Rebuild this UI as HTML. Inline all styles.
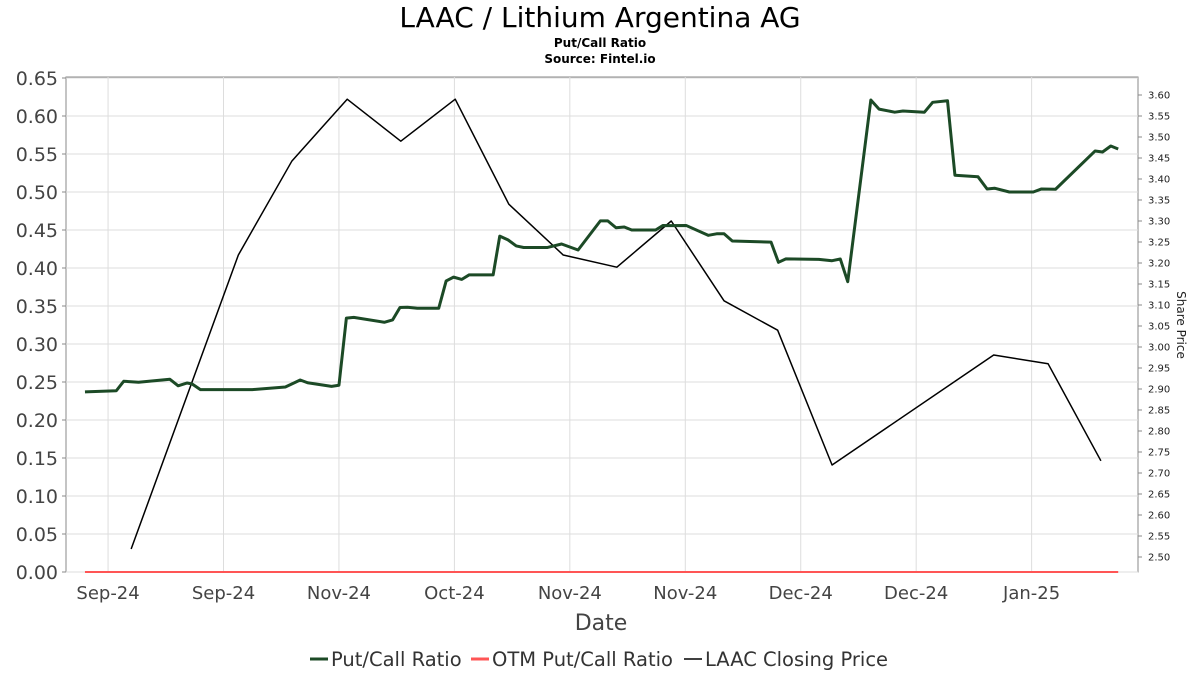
<!DOCTYPE html>
<html><head><meta charset="utf-8"><style>
body{margin:0;background:#fff;}
svg{display:block;font-family:"DejaVu Sans","Liberation Sans",sans-serif;}
</style></head><body>
<svg id="chart" width="1200" height="675">
<text x="600" y="27" text-anchor="middle" font-size="28" fill="#000">LAAC / Lithium Argentina AG</text>
<text x="600" y="47" text-anchor="middle" font-size="12" font-weight="bold" fill="#000">Put/Call Ratio</text>
<text x="600" y="63" text-anchor="middle" font-size="12" font-weight="bold" fill="#000">Source: Fintel.io</text>
<rect x="66" y="77" width="1072" height="495" fill="#fff" stroke="#888"/>
<g id="grid"></g><g id="series"></g><g id="axes"></g>
<text x="601" y="630" text-anchor="middle" font-size="22" fill="#444">Date</text>
<text transform="translate(1177,325) rotate(90)" text-anchor="middle" font-size="12" fill="#222">Share Price</text>
<g font-size="19.5" fill="#333">
<g><line x1="310" y1="659" x2="328" y2="659" stroke="#1c4a26" stroke-width="3"/><text x="331" y="666">Put/Call Ratio</text></g>
<g><line x1="471" y1="659" x2="489" y2="659" stroke="#ff5555" stroke-width="3"/><text x="492" y="666">OTM Put/Call Ratio</text></g>
<g><line x1="684" y1="659" x2="702" y2="659" stroke="#000" stroke-width="1.5"/><text x="705" y="666">LAAC Closing Price</text></g>
</g>
</svg>
<script>
const tickLabels=["Sep-24","Sep-24","Nov-24","Oct-24","Nov-24","Nov-24","Dec-24","Dec-24","Jan-25"];
const tickDays=[5.1,19.1,33.1,47.1,61.1,75.1,89.1,103.1,117.1];
const yTicks=[0,0.05,0.1,0.15,0.2,0.25,0.3,0.35,0.4,0.45,0.5,0.55,0.6,0.65];
const y2Ticks=[2.5,2.55,2.6,2.65,2.7,2.75,2.8,2.85,2.9,2.95,3.0,3.05,3.1,3.15,3.2,3.25,3.3,3.35,3.4,3.45,3.5,3.55,3.6];
const pcDays=[2.3,6.1,7.0,8.8,12.6,13.6,14.7,15.3,16.3,22.6,26.6,28.4,29.3,32.2,33.1,34.0,34.9,38.6,39.6,40.5,41.4,42.6,45.2,46.1,47.0,48.0,48.9,51.8,52.6,53.6,54.6,55.5,58.4,60.1,62.1,64.8,65.7,66.7,67.7,68.6,71.5,72.4,73.3,75.2,77.9,78.9,79.8,80.8,85.5,86.4,87.3,91.3,92.9,93.9,94.8,97.6,98.6,100.5,101.5,104.1,105.1,106.9,107.8,110.6,111.7,112.6,114.4,117.3,118.3,120.0,124.8,125.7,126.7,127.6];
const pcValues=[0.237,0.2385,0.251,0.2496,0.2536,0.245,0.2487,0.2474,0.240,0.240,0.2434,0.2526,0.249,0.2443,0.2457,0.334,0.335,0.3286,0.3316,0.348,0.3483,0.347,0.347,0.383,0.388,0.385,0.391,0.391,0.442,0.437,0.429,0.427,0.427,0.4316,0.4237,0.462,0.462,0.453,0.454,0.45,0.45,0.456,0.4557,0.456,0.443,0.445,0.445,0.4355,0.434,0.4075,0.412,0.4114,0.4096,0.4118,0.382,0.621,0.609,0.605,0.6066,0.605,0.618,0.620,0.522,0.520,0.504,0.505,0.500,0.500,0.504,0.5036,0.554,0.5526,0.5605,0.5566];
const otmDays=[2.3,127.6];
const otmValues=[0,0];
const priceDays=[7.9,20.9,27.4,34.1,40.6,47.2,53.7,60.3,66.8,73.4,79.8,86.3,92.9,112.5,119.1,125.5];
const priceValues=[2.519,3.219,3.443,3.590,3.490,3.590,3.340,3.219,3.190,3.300,3.110,3.040,2.719,2.981,2.960,2.729];

const NS="http://www.w3.org/2000/svg";
const X0=66,X1=1138,D0=0,D1=130;
const xs=d=>X0+(d-D0)/(D1-D0)*(X1-X0);
const ys=v=>572-v/0.65*494;
const y2s=p=>557-(p-2.5)/1.1*462;
function mk(tag,attrs,parent){const e=document.createElementNS(NS,tag);for(const k in attrs)e.setAttribute(k,attrs[k]);parent.appendChild(e);return e;}
const grid=document.getElementById('grid'),axes=document.getElementById('axes'),series=document.getElementById('series');
tickDays.forEach((d,i)=>{
  const x=xs(d);
  const g=mk('line',{x1:x,x2:x,y1:77,y2:572,stroke:'#ddd'},grid);
  
  
  const t=mk('text',{x:x,y:599,'text-anchor':'middle','font-size':18,fill:'#444'},axes);
  t.textContent=tickLabels[i];
  
  
});
yTicks.forEach(v=>{
  const y=ys(v);
  const g=mk('line',{x1:66,x2:1138,y1:y,y2:y,stroke:'#ddd'},grid);
  
  
  mk('line',{x1:62,x2:66,y1:y,y2:y,stroke:'#888'},axes);
  const t=mk('text',{x:58,y:y+7,'text-anchor':'end','font-size':19,fill:'#444'},axes);
  t.textContent=v.toFixed(2);
  
  
});
y2Ticks.forEach(v=>{
  const y=y2s(v);
  mk('line',{x1:1138,x2:1142,y1:y,y2:y,stroke:'#888'},axes);
  const t=mk('text',{x:1148,y:y+3.5,'font-size':10,fill:'#222'},axes);
  t.textContent=v.toFixed(2);
  
  
});
function line(days,vals,sc,color,w,name){
  const p=mk('polyline',{points:days.map((d,i)=>xs(d)+','+sc(vals[i])).join(' '),fill:'none',stroke:color,'stroke-width':w,'stroke-linejoin':'round'},series);
  
  
}
line(priceDays,priceValues,y2s,'#000',1.5,'closing-price-line');
line(otmDays,otmValues,ys,'#ff5555',2,'otm-put-call-line');
line(pcDays,pcValues,ys,'#1c4a26',3,'put-call-ratio-line');
</script>
</body></html>
